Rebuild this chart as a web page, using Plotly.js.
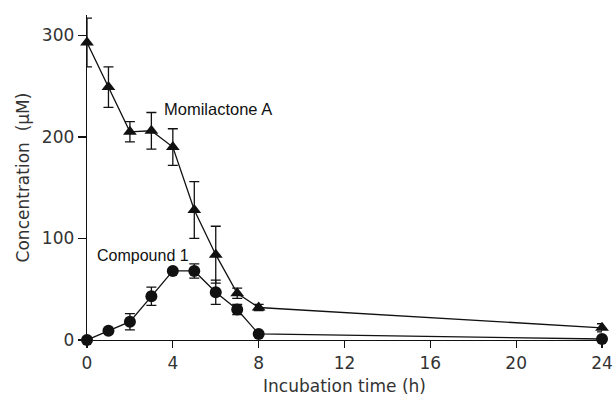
<!DOCTYPE html>
<html>
<head>
<meta charset="utf-8">
<script src="https://cdn.plot.ly/plotly-3.0.1.min.js"></script>
<style>html,body{margin:0;padding:0;background:#fff;}#chart{width:613px;height:401px;}</style>
</head>
<body>
<div id="chart"></div>
<script>
// Incubation time (h)
const timeA = [0, 1, 2, 3, 4, 5, 6, 7, 8, 24];
const momilactoneA = [293, 249, 205, 206, 190, 128, 84, 46, 32, 12];
const momilactoneAErr = [24, 20, 10, 18, 18, 28, 28, 5, 3, 4];

const timeC = [0, 1, 2, 3, 4, 5, 6, 7, 8, 24];
const compound1 = [0, 9, 18, 43, 68, 68, 47, 30, 6, 1];
const compound1Err = [0, 2, 8, 9, 2, 7, 12, 5, 1, 0];

const xTicks = [0, 4, 8, 12, 16, 20, 24];
const yTicks = [0, 100, 200, 300];

const ink = '#111';
const axisFont = {family: 'DejaVu Sans, sans-serif', size: 17, color: '#333', weight: 400};

const traces = [
  {
    x: timeA, y: momilactoneA, type: 'scatter', mode: 'lines+markers',
    cliponaxis: false,
    line: {color: ink, width: 1.3},
    marker: {symbol: 'triangle-up', size: 12, color: ink},
    error_y: {type: 'data', array: momilactoneAErr, visible: true, color: ink, thickness: 1.3, width: 5},
    showlegend: false
  },
  {
    x: timeC, y: compound1, type: 'scatter', mode: 'lines+markers',
    cliponaxis: false,
    line: {color: ink, width: 1.3},
    marker: {symbol: 'circle', size: 12, color: ink},
    error_y: {type: 'data', array: compound1Err, visible: true, color: ink, thickness: 1.3, width: 5},
    showlegend: false
  }
];

const layout = {
  width: 613, height: 401,
  margin: {l: 87, r: 11, t: 15, b: 61},
  paper_bgcolor: '#fff', plot_bgcolor: '#fff',
  xaxis: {
    range: [0, 24], tickvals: xTicks, ticktext: xTicks.map(String),
    showgrid: false, zeroline: false, showline: true, linecolor: ink, linewidth: 1.3,
    ticks: 'outside', ticklen: 7, tickwidth: 1.3, tickcolor: ink,
    tickfont: axisFont,
    title: {text: 'Incubation time (h)', font: axisFont, standoff: 8}
  },
  yaxis: {
    range: [0, 320], tickvals: yTicks, ticktext: yTicks.map(String),
    showgrid: false, zeroline: false, showline: true, linecolor: ink, linewidth: 1.3,
    ticks: 'outside', ticklen: 8, tickwidth: 1.3, tickcolor: ink,
    tickfont: axisFont,
    title: {text: 'Concentration\u00a0\u00a0(\u03bcM)', font: axisFont, standoff: 8}
  },
  annotations: [
    {x: 3.5, y: 227, xref: 'x', yref: 'y', text: 'Momilactone A', showarrow: false,
     xanchor: 'left', yanchor: 'middle', font: {family: 'Liberation Sans, Arial, sans-serif', size: 16.5, color: '#111'}},
    {x: 0.36, y: 83.6, xref: 'x', yref: 'y', text: 'Compound 1', showarrow: false,
     xanchor: 'left', yanchor: 'middle', font: {family: 'Liberation Sans, Arial, sans-serif', size: 16, color: '#111'}}
  ]
};

Plotly.newPlot('chart', traces, layout, {displayModeBar: false, staticPlot: true});
</script>
</body>
</html>
